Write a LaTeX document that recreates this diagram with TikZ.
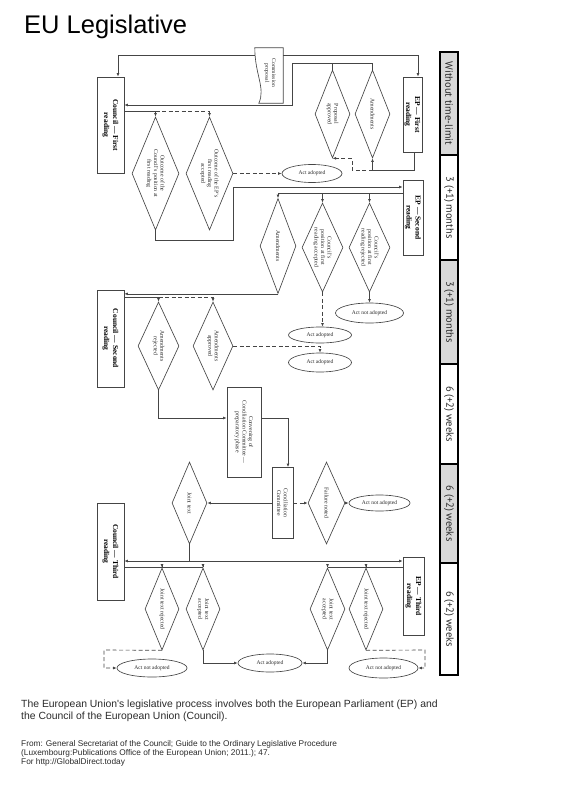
\documentclass[tikz,border=0pt]{standalone}
\usepackage{fontspec}
\setmainfont{Liberation Serif}
\newfontfamily\hv{Liberation Sans}
\newfontfamily\bandf{PT Sans}
\usetikzlibrary{shapes.geometric,arrows.meta,calc}
\definecolor{ln}{HTML}{454545}
\definecolor{tx}{HTML}{2A2A2A}
\definecolor{bandgray}{HTML}{D9D9D9}
\tikzset{
  arr/.style={-{Latex[length=3.5pt,width=2.8pt]}},
  conn/.style={draw=ln, line width=0.65pt},
  dsh/.style={dash pattern=on 4pt off 2.5pt},
  boxn/.style={draw=ln, line width=0.65pt, rectangle, inner sep=0pt, fill=white},
  dia/.style={draw=ln, line width=0.65pt, diamond, inner sep=0pt, fill=white},
  ell/.style={draw=ln, line width=0.65pt, ellipse, inner sep=0pt, fill=white, text=tx, font=\fontsize{5.5}{6}\selectfont},
  btxt/.style={rotate=-90, align=center, inner sep=0pt, text=black, font=\bfseries\fontsize{7.5}{9}\selectfont},
  dtxt/.style={rotate=-90, align=center, inner sep=0pt, text=tx, font=\fontsize{5.8}{6.6}\selectfont},
  band/.style={draw=black, line width=1.1pt, rectangle, inner sep=0pt, rotate=-90, minimum height=18, text=tx, font=\bandf\fontsize{10.5}{12}\selectfont},
}
\begin{document}
\begin{tikzpicture}[x=1pt,y=-1pt]
\useasboundingbox (0,0) rectangle (565,800);

% title
\node[anchor=base west, inner sep=0pt, font=\hv\fontsize{25.5}{30}\selectfont, text=black] (title) at (24,33.3) {EU Legislative};

% time bands
\node[band, fill=bandgray, minimum width=103] (b1) at (449,103.5) {Without time-limit};
\node[band, fill=white, minimum width=105] (b2) at (449,207.5) {3 (+1) months};
\node[band, fill=bandgray, minimum width=104] (b3) at (449,312) {3 (+1) months};
\node[band, fill=white, minimum width=100] (b4) at (449,414) {6 (+2) weeks};
\node[band, fill=bandgray, minimum width=99] (b5) at (449,513.5) {6 (+2) weeks};
\node[band, fill=white, minimum width=112] (b6) at (449,619) {6 (+2) weeks};

% commission proposal
\node[inner sep=0pt, minimum width=28, minimum height=55] (cp) at (269,75.5) {};
\draw[draw=ln, line width=0.65pt, fill=white] (cp.north west) -- (cp.north east) -- (cp.south east) -- ($(cp.south west)+(4,0)$) .. controls ($(cp.south west)+(11,-15)$) and ($(cp.north west)+(0,27)$) .. (cp.north west) -- cycle;
\node[dtxt, font=\fontsize{5.6}{6.6}\selectfont] (cpt) at (270,73) {Commission\\proposal};

% reading boxes
\node[boxn, minimum width=27, minimum height=96, label={[btxt]center:{Council — First\\reading}}] (cf) at (110.5,125) {};
\node[boxn, minimum width=19, minimum height=75, label={[btxt]center:{EP — First\\reading}}] (ef) at (412.5,114.5) {};
\node[boxn, minimum width=20, minimum height=75, label={[btxt]center:{EP — Second\\reading}}] (es) at (413,217.5) {};
\node[boxn, minimum width=27, minimum height=97, label={[btxt]center:{Council — Second\\reading}}] (cs) at (110.5,338.5) {};
\node[boxn, minimum width=27, minimum height=97, label={[btxt]center:{Council — Third\\reading}}] (ct) at (110.5,551.5) {};
\node[boxn, minimum width=21, minimum height=78, label={[btxt]center:{EP — Third\\reading}}] (et) at (413.5,596) {};
\node[boxn, minimum width=34, minimum height=90, label={[dtxt]center:{Convening of\\Conciliation Committee —\\preparatory phase}}] (conv) at (244,432) {};
\node[boxn, minimum width=21, minimum height=71, label={[dtxt]center:{Conciliation\\Committee}}] (cc) at (282.5,503) {};

% diamonds
\node[dia, minimum width=35, minimum height=88, label={[dtxt]center:{Proposal\\approved}}] (d_pa) at (332.5,114) {};
\node[dia, minimum width=35, minimum height=88, label={[dtxt]center:{Amendments}}] (d_am1) at (372.5,114) {};
\node[dia, minimum width=47, minimum height=113, label={[dtxt]center:{Outcome of the\\Council's position at\\first reading}}] (d_c1) at (155.5,173.5) {};
\node[dia, minimum width=47, minimum height=113, label={[dtxt]center:{Outcome of the EP's\\first reading\\accepted}}] (d_e1) at (209.5,173.5) {};
\node[dia, minimum width=36, minimum height=95, label={[dtxt]center:{Amendments}}] (d_am2) at (278,246) {};
\node[dia, minimum width=41, minimum height=89, label={[dtxt]center:{Council's\\position at first\\reading accepted}}] (d_ca) at (322.5,247.5) {};
\node[dia, minimum width=41, minimum height=89, label={[dtxt]center:{Council's\\position at first\\reading rejected}}] (d_cr) at (369.5,247.5) {};
\node[dia, minimum width=41, minimum height=88, label={[dtxt]center:{Amendments\\rejected}}] (d_ar) at (158.5,346) {};
\node[dia, minimum width=40, minimum height=88, label={[dtxt]center:{Amendments\\approved}}] (d_aa) at (213,346) {};
\node[dia, minimum width=37, minimum height=82, label={[dtxt]center:{Failure noted}}] (d_fn) at (326.5,503) {};
\node[dia, minimum width=35, minimum height=82, label={[dtxt]center:{Joint text}}] (d_jt) at (189.5,503) {};
\node[dia, minimum width=34, minimum height=82, label={[dtxt]center:{Joint text rejected}}] (d_jr1) at (162,609) {};
\node[dia, minimum width=34, minimum height=82, label={[dtxt]center:{Joint text\\accepted}}] (d_ja1) at (203,609) {};
\node[dia, minimum width=35, minimum height=82, label={[dtxt]center:{Joint text\\accepted}}] (d_ja2) at (327.5,609) {};
\node[dia, minimum width=34, minimum height=82, label={[dtxt]center:{Joint text rejected}}] (d_jr2) at (366,609) {};

% ellipses
\node[ell, minimum width=60, minimum height=18] (e_aa1) at (312,173.5) {Act adopted};
\node[ell, minimum width=68, minimum height=20] (e_ana1) at (369.5,313) {Act not adopted};
\node[ell, minimum width=63, minimum height=16] (e_aa2) at (320,335) {Act adopted};
\node[ell, minimum width=63, minimum height=19] (e_aa3) at (320,362.5) {Act adopted};
\node[ell, minimum width=61, minimum height=16] (e_ana2) at (379.5,503) {Act not adopted};
\node[ell, minimum width=70, minimum height=18] (e_ana3) at (152,668) {Act not adopted};
\node[ell, minimum width=64, minimum height=18] (e_aa4) at (270,663) {Act adopted};
\node[ell, minimum width=69, minimum height=20] (e_ana4) at (383.5,668) {Act not adopted};

% ---- connectors ----
\coordinate (tl) at (118,55);
\coordinate (tr) at (418,55);
\draw[conn,arr] (cp.west |- tl) -- (tl) -- (tl |- cf.north);
\draw[conn,arr] (cp.east |- tr) -- (tr) -- (tr |- ef.north);

\coordinate (e1a) at (414,170);
\coordinate (e1b) at (352,170);
\draw[conn,arr] (e1a |- ef.south) -- (e1a) -- (e1a -| d_am1.south) -- (d_am1.south);
\draw[conn,dsh,arr] (e1a -| d_am1.south) -- (e1b) -- (e1b |- d_pa.south) -- (d_pa.south);

\coordinate (j1) at (292,63);
\coordinate (j2) at (292,105);
\draw[conn] (d_pa.north) -- (d_pa.north |- j1);
\draw[conn,arr] (d_am1.north) |- (j1) -- (j2) -- (j2 -| cf.east);

\coordinate (k1) at (124,111);
\draw[conn,arr] (k1) -| (d_c1.north);
\draw[conn,dsh,arr] (k1 -| d_c1.north) -| (d_e1.north);
\draw[conn,dsh,arr] (d_e1.east) -- (e_aa1.west);

\coordinate (q1) at (155.5,240);
\coordinate (q2) at (233,240);
\coordinate (q3) at (233,187);
\draw[conn,arr] (d_c1.south) -- (q1) -- (q2) -- (q3) -- (q3 -| es.west);

\coordinate (r1) at (403,193);
\draw[conn] (r1) -- (r1 -| d_am2.north);
\draw[conn,arr] (r1 -| d_am2.north) -- (d_am2.north);
\draw[conn,arr] (r1 -| d_ca.north) -- (d_ca.north);
\draw[conn,arr] (r1 -| d_cr.north) -- (d_cr.north);
\draw[conn,arr] (d_cr.south) -- (e_ana1.north);
\draw[conn,dsh,arr] (d_ca.south) -- (d_ca.south |- e_aa2.north);
\draw[conn,arr] (d_am2.south) -- (d_am2.south -| cs.east);

\coordinate (s1) at (124,297);
\draw[conn,arr] (s1) -| (d_ar.north);
\draw[conn,dsh,arr] (s1 -| d_ar.north) -| (d_aa.north);
\draw[conn,dsh,arr] (d_aa.east) -| (e_aa3.north);

\coordinate (u1) at (158.5,418);
\coordinate (u2) at (288,418);
\draw[conn,arr] (d_ar.south) -- (u1) -- (u1 -| conv.west);
\draw[conn,arr] (u2 -| conv.east) -- (u2) -- (u2 |- cc.north);

\draw[conn,dsh,arr] (cc.east) -- (d_fn.west);
\draw[conn,arr] (d_fn.east) -- (e_ana2.west);
\draw[conn,arr] (cc.west) -- (d_jt.east);

\coordinate (v1) at (189.5,561);
\draw[conn] (d_jt.south) -- (v1);
\draw[conn,arr] (v1) -- (v1 -| ct.east);
\draw[conn,arr] (v1) -- (v1 -| et.west);

\coordinate (w1) at (124,567);
\coordinate (w2) at (403,567);
\draw[conn] (w1) -- (w1 -| d_ja1.north);
\draw[conn,arr] (w1 -| d_jr1.north) -- (d_jr1.north);
\draw[conn,arr] (w1 -| d_ja1.north) -- (d_ja1.north);
\draw[conn] (w2) -- (w2 -| d_ja2.north);
\draw[conn,arr] (w2 -| d_jr2.north) -- (d_jr2.north);
\draw[conn,arr] (w2 -| d_ja2.north) -- (d_ja2.north);

\coordinate (z1) at (104,650);
\coordinate (z2) at (425,650);
\draw[conn,dsh,arr] (d_jr1.south) -- (z1) |- (e_ana3.west);
\draw[conn,arr] (d_ja1.south) |- (e_aa4.west);
\draw[conn,arr] (d_ja2.south) |- (e_aa4.east);
\draw[conn,dsh,arr] (d_jr2.south) -- (z2) |- (e_ana4.east);

% caption (base anchor = baseline of last line)
\node[anchor=base west, inner sep=0pt, align=left, text=tx, font=\hv\fontsize{10.4}{11.6}\selectfont] (cap) at (21,719.1) {The European Union's legislative process involves both the European Parliament (EP) and\\the Council of the European Union (Council).};
\node[anchor=base west, inner sep=0pt, align=left, text=tx, font=\hv\fontsize{8.3}{8.7}\selectfont] (src) at (21,764.1) {From: General Secretariat of the Council; Guide to the Ordinary Legislative Procedure\\(Luxembourg:Publications Office of the European Union; 2011.); 47.\\For http://GlobalDirect.today};
\end{tikzpicture}
\end{document}
